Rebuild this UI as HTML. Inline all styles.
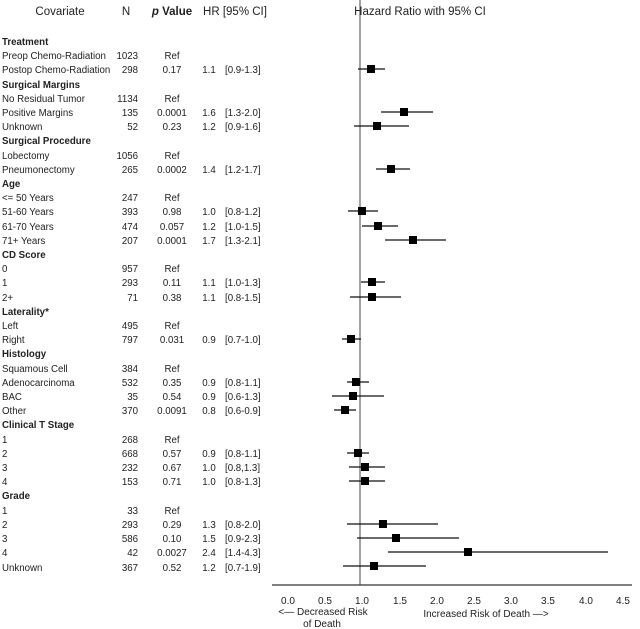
<!DOCTYPE html>
<html><head><meta charset="utf-8"><style>
html,body{margin:0;padding:0;background:#fff}
svg{display:block;font-family:"Liberation Sans",Arial,sans-serif;font-size:9.7px;fill:#222}
.b{font-weight:bold}
</style></head><body>
<svg width="640" height="629" viewBox="0 0 640 629" xmlns="http://www.w3.org/2000/svg">
<g font-size="11.5" font-weight="bold" fill="#222">
<text x="60" y="15" text-anchor="middle" font-weight="normal">Covariate</text>
<text x="126" y="15" text-anchor="middle" font-weight="normal">N</text>
<text x="172" y="15" text-anchor="middle"><tspan font-style="italic">p</tspan> Value</text>
<text x="235" y="15" text-anchor="middle" font-weight="normal">HR [95% CI]</text>
<text x="420" y="15" text-anchor="middle" font-weight="normal">Hazard Ratio with 95% CI</text>
</g>
<line x1="360" y1="0" x2="360" y2="585" stroke="#444" stroke-width="1"/>
<line x1="272" y1="585" x2="632" y2="585" stroke="#333" stroke-width="1.2"/>
<g font-size="10" text-anchor="middle">
<text x="288" y="604">0.0</text><text x="325" y="604">0.5</text><text x="362" y="604">1.0</text><text x="400" y="604">1.5</text><text x="437" y="604">2.0</text><text x="474" y="604">2.5</text><text x="511" y="604">3.0</text><text x="548" y="604">3.5</text><text x="586" y="604">4.0</text><text x="623" y="604">4.5</text>
<text x="323" y="615">&lt;— Decreased Risk</text><text x="322" y="627">of Death</text>
<text x="486" y="617">Increased Risk of Death —&gt;</text>
</g>
<g id="rows">
<text class="b" x="2" y="45">Treatment</text>
<text x="2" y="59">Preop Chemo-Radiation</text><text x="138" y="59" text-anchor="end">1023</text><text x="172" y="59" text-anchor="middle">Ref</text>
<text x="2" y="73">Postop Chemo-Radiation</text><text x="138" y="73" text-anchor="end">298</text><text x="172" y="73" text-anchor="middle">0.17</text><text x="209" y="73" text-anchor="middle">1.1</text><text x="225" y="73">[0.9-1.3]</text>
<text class="b" x="2" y="88">Surgical Margins</text>
<text x="2" y="102">No Residual Tumor</text><text x="138" y="102" text-anchor="end">1134</text><text x="172" y="102" text-anchor="middle">Ref</text>
<text x="2" y="116">Positive Margins</text><text x="138" y="116" text-anchor="end">135</text><text x="172" y="116" text-anchor="middle">0.0001</text><text x="209" y="116" text-anchor="middle">1.6</text><text x="225" y="116">[1.3-2.0]</text>
<text x="2" y="130">Unknown</text><text x="138" y="130" text-anchor="end">52</text><text x="172" y="130" text-anchor="middle">0.23</text><text x="209" y="130" text-anchor="middle">1.2</text><text x="225" y="130">[0.9-1.6]</text>
<text class="b" x="2" y="144">Surgical Procedure</text>
<text x="2" y="159">Lobectomy</text><text x="138" y="159" text-anchor="end">1056</text><text x="172" y="159" text-anchor="middle">Ref</text>
<text x="2" y="173">Pneumonectomy</text><text x="138" y="173" text-anchor="end">265</text><text x="172" y="173" text-anchor="middle">0.0002</text><text x="209" y="173" text-anchor="middle">1.4</text><text x="225" y="173">[1.2-1.7]</text>
<text class="b" x="2" y="187">Age</text>
<text x="2" y="201">&lt;= 50 Years</text><text x="138" y="201" text-anchor="end">247</text><text x="172" y="201" text-anchor="middle">Ref</text>
<text x="2" y="215">51-60 Years</text><text x="138" y="215" text-anchor="end">393</text><text x="172" y="215" text-anchor="middle">0.98</text><text x="209" y="215" text-anchor="middle">1.0</text><text x="225" y="215">[0.8-1.2]</text>
<text x="2" y="230">61-70 Years</text><text x="138" y="230" text-anchor="end">474</text><text x="172" y="230" text-anchor="middle">0.057</text><text x="209" y="230" text-anchor="middle">1.2</text><text x="225" y="230">[1.0-1.5]</text>
<text x="2" y="244">71+ Years</text><text x="138" y="244" text-anchor="end">207</text><text x="172" y="244" text-anchor="middle">0.0001</text><text x="209" y="244" text-anchor="middle">1.7</text><text x="225" y="244">[1.3-2.1]</text>
<text class="b" x="2" y="258">CD Score</text>
<text x="2" y="272">0</text><text x="138" y="272" text-anchor="end">957</text><text x="172" y="272" text-anchor="middle">Ref</text>
<text x="2" y="286">1</text><text x="138" y="286" text-anchor="end">293</text><text x="172" y="286" text-anchor="middle">0.11</text><text x="209" y="286" text-anchor="middle">1.1</text><text x="225" y="286">[1.0-1.3]</text>
<text x="2" y="301">2+</text><text x="138" y="301" text-anchor="end">71</text><text x="172" y="301" text-anchor="middle">0.38</text><text x="209" y="301" text-anchor="middle">1.1</text><text x="225" y="301">[0.8-1.5]</text>
<text class="b" x="2" y="315">Laterality*</text>
<text x="2" y="329">Left</text><text x="138" y="329" text-anchor="end">495</text><text x="172" y="329" text-anchor="middle">Ref</text>
<text x="2" y="343">Right</text><text x="138" y="343" text-anchor="end">797</text><text x="172" y="343" text-anchor="middle">0.031</text><text x="209" y="343" text-anchor="middle">0.9</text><text x="225" y="343">[0.7-1.0]</text>
<text class="b" x="2" y="357">Histology</text>
<text x="2" y="372">Squamous Cell</text><text x="138" y="372" text-anchor="end">384</text><text x="172" y="372" text-anchor="middle">Ref</text>
<text x="2" y="386">Adenocarcinoma</text><text x="138" y="386" text-anchor="end">532</text><text x="172" y="386" text-anchor="middle">0.35</text><text x="209" y="386" text-anchor="middle">0.9</text><text x="225" y="386">[0.8-1.1]</text>
<text x="2" y="400">BAC</text><text x="138" y="400" text-anchor="end">35</text><text x="172" y="400" text-anchor="middle">0.54</text><text x="209" y="400" text-anchor="middle">0.9</text><text x="225" y="400">[0.6-1.3]</text>
<text x="2" y="414">Other</text><text x="138" y="414" text-anchor="end">370</text><text x="172" y="414" text-anchor="middle">0.0091</text><text x="209" y="414" text-anchor="middle">0.8</text><text x="225" y="414">[0.6-0.9]</text>
<text class="b" x="2" y="428">Clinical T Stage</text>
<text x="2" y="443">1</text><text x="138" y="443" text-anchor="end">268</text><text x="172" y="443" text-anchor="middle">Ref</text>
<text x="2" y="457">2</text><text x="138" y="457" text-anchor="end">668</text><text x="172" y="457" text-anchor="middle">0.57</text><text x="209" y="457" text-anchor="middle">0.9</text><text x="225" y="457">[0.8-1.1]</text>
<text x="2" y="471">3</text><text x="138" y="471" text-anchor="end">232</text><text x="172" y="471" text-anchor="middle">0.67</text><text x="209" y="471" text-anchor="middle">1.0</text><text x="225" y="471">[0.8,1.3]</text>
<text x="2" y="485">4</text><text x="138" y="485" text-anchor="end">153</text><text x="172" y="485" text-anchor="middle">0.71</text><text x="209" y="485" text-anchor="middle">1.0</text><text x="225" y="485">[0.8-1.3]</text>
<text class="b" x="2" y="499">Grade</text>
<text x="2" y="514">1</text><text x="138" y="514" text-anchor="end">33</text><text x="172" y="514" text-anchor="middle">Ref</text>
<text x="2" y="528">2</text><text x="138" y="528" text-anchor="end">293</text><text x="172" y="528" text-anchor="middle">0.29</text><text x="209" y="528" text-anchor="middle">1.3</text><text x="225" y="528">[0.8-2.0]</text>
<text x="2" y="542">3</text><text x="138" y="542" text-anchor="end">586</text><text x="172" y="542" text-anchor="middle">0.10</text><text x="209" y="542" text-anchor="middle">1.5</text><text x="225" y="542">[0.9-2.3]</text>
<text x="2" y="556">4</text><text x="138" y="556" text-anchor="end">42</text><text x="172" y="556" text-anchor="middle">0.0027</text><text x="209" y="556" text-anchor="middle">2.4</text><text x="225" y="556">[1.4-4.3]</text>
<text x="2" y="571">Unknown</text><text x="138" y="571" text-anchor="end">367</text><text x="172" y="571" text-anchor="middle">0.52</text><text x="209" y="571" text-anchor="middle">1.2</text><text x="225" y="571">[0.7-1.9]</text>
</g>
<g stroke="#111" stroke-width="1.2">
<line x1="358" y1="69" x2="385" y2="69"/>
<line x1="381" y1="112" x2="433" y2="112"/>
<line x1="354" y1="126" x2="409" y2="126"/>
<line x1="376" y1="169" x2="410" y2="169"/>
<line x1="348" y1="211" x2="378" y2="211"/>
<line x1="362" y1="226" x2="398" y2="226"/>
<line x1="385" y1="240" x2="446" y2="240"/>
<line x1="361" y1="282" x2="385" y2="282"/>
<line x1="350" y1="297" x2="401" y2="297"/>
<line x1="342" y1="339" x2="361" y2="339"/>
<line x1="347" y1="382" x2="369" y2="382"/>
<line x1="332" y1="396" x2="384" y2="396"/>
<line x1="334" y1="410" x2="356" y2="410"/>
<line x1="347" y1="453" x2="369" y2="453"/>
<line x1="349" y1="467" x2="385" y2="467"/>
<line x1="349" y1="481" x2="385" y2="481"/>
<line x1="347" y1="524" x2="438" y2="524"/>
<line x1="357" y1="538" x2="459" y2="538"/>
<line x1="388" y1="552" x2="608" y2="552"/>
<line x1="343" y1="566" x2="426" y2="566"/>
</g>
<g fill="#000">
<rect x="367" y="65" width="8" height="8"/>
<rect x="400" y="108" width="8" height="8"/>
<rect x="373" y="122" width="8" height="8"/>
<rect x="387" y="165" width="8" height="8"/>
<rect x="358" y="207" width="8" height="8"/>
<rect x="374" y="222" width="8" height="8"/>
<rect x="409" y="236" width="8" height="8"/>
<rect x="368" y="278" width="8" height="8"/>
<rect x="368" y="293" width="8" height="8"/>
<rect x="347" y="335" width="8" height="8"/>
<rect x="352" y="378" width="8" height="8"/>
<rect x="349" y="392" width="8" height="8"/>
<rect x="341" y="406" width="8" height="8"/>
<rect x="354" y="449" width="8" height="8"/>
<rect x="361" y="463" width="8" height="8"/>
<rect x="361" y="477" width="8" height="8"/>
<rect x="379" y="520" width="8" height="8"/>
<rect x="392" y="534" width="8" height="8"/>
<rect x="464" y="548" width="8" height="8"/>
<rect x="370" y="562" width="8" height="8"/>
</g>
</svg>
</body></html>
